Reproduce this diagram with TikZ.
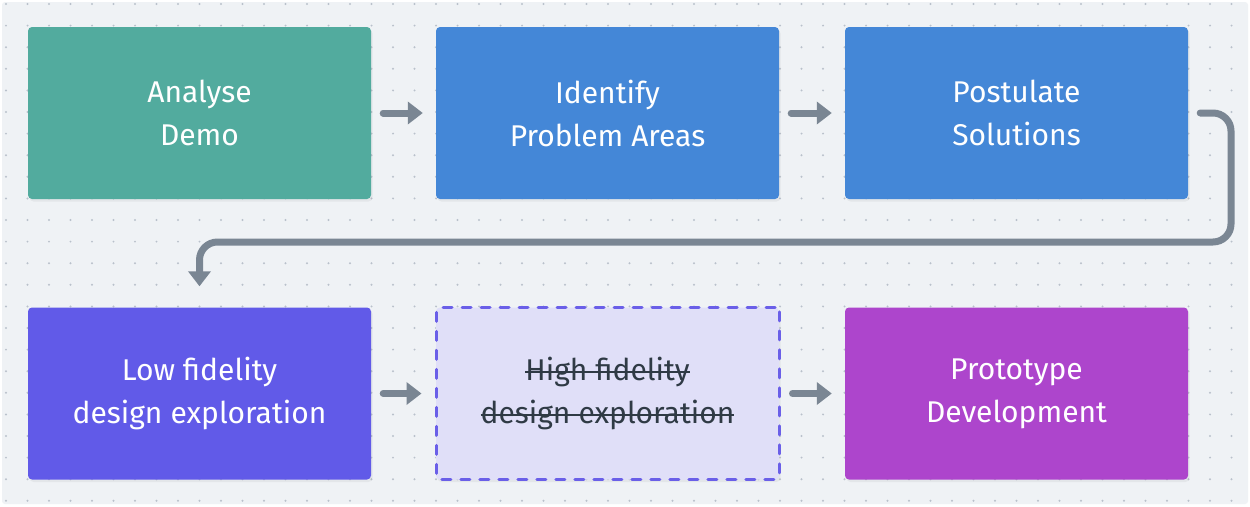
\documentclass[tikz,border=0pt]{standalone}
\usepackage{fontspec}
\setmainfont{Fira Sans}
\newcommand\mystrk[1]{\setbox0\hbox{#1}\rlap{\rule[0.26em]{\wd0}{2pt}}\box0}
\usetikzlibrary{arrows.meta,calc,shadows}
\definecolor{bgc}{HTML}{EFF2F5}
\definecolor{dotc}{HTML}{B9C1CB}
\definecolor{tealc}{HTML}{52AB9E}
\definecolor{bluec}{HTML}{4487D7}
\definecolor{indigoc}{HTML}{615AE8}
\definecolor{purplec}{HTML}{AD45CC}
\definecolor{lavc}{HTML}{E0DFF8}
\definecolor{dashc}{HTML}{6A5FE8}
\definecolor{connc}{HTML}{7A8693}
\definecolor{darktext}{HTML}{2F3A45}
\tikzset{
  box/.style={minimum width=343pt, minimum height=172pt, rounded corners=4pt,
    inner sep=0pt, align=center, text=white,
    font=\fontsize{30}{43}\selectfont,
    drop shadow={opacity=0.10, shadow xshift=1.5pt, shadow yshift=-2.5pt}},
  ghost/.style={box, fill=lavc, draw=dashc, line width=3pt,
    dash pattern=on 9pt off 10pt, line cap=round, text=darktext},
  conn/.style={draw=connc, line width=7pt, line cap=round,
    -{Triangle[length=15pt, width=22pt]}},
  shortarrow/.style={conn, shorten <=12pt, shorten >=13pt}
}
\begin{document}
\begin{tikzpicture}[x=1pt,y=-1pt]
\useasboundingbox (0,0) rectangle (1250,506);
\fill[white] (0,0) rectangle (1250,506);
\fill[bgc, rounded corners=3pt] (2,2) rectangle (1248,504);
\foreach \i in {0,...,57}{
  \foreach \j in {0,...,23}{
    \fill[dotc] (6+\i*21.5, 4+\j*21.6) circle[radius=1.1pt];
  }
}
\node[box, fill=tealc]   (b1) at (199.5,113)  {Analyse\\Demo};
\node[box, fill=bluec]   (b2) at (607.5,113)  {Identify\\Problem Areas};
\node[box, fill=bluec]   (b3) at (1016.5,113) {Postulate\\Solutions};
\node[box, fill=indigoc] (b4) at (199.5,393.5)  {Low fidelity\\design exploration};
\node[ghost]             (b5) at (607.5,393.5)  {\mystrk{High fidelity}\\\mystrk{design exploration}};
\node[box, fill=purplec] (b6) at (1016.5,393.5) {Prototype\\Development};

\draw[shortarrow] (b1) -- (b2);
\draw[shortarrow] (b2) -- (b3);
\draw[shortarrow] (b4) -- (b5);
\draw[shortarrow] (b5) -- (b6);

\coordinate (turn) at (1231,242);
\draw[conn, rounded corners=18pt, shorten <=12pt, shorten >=21pt]
  (b3.east) -| (turn) -| (b4.north);
\end{tikzpicture}
\end{document}
